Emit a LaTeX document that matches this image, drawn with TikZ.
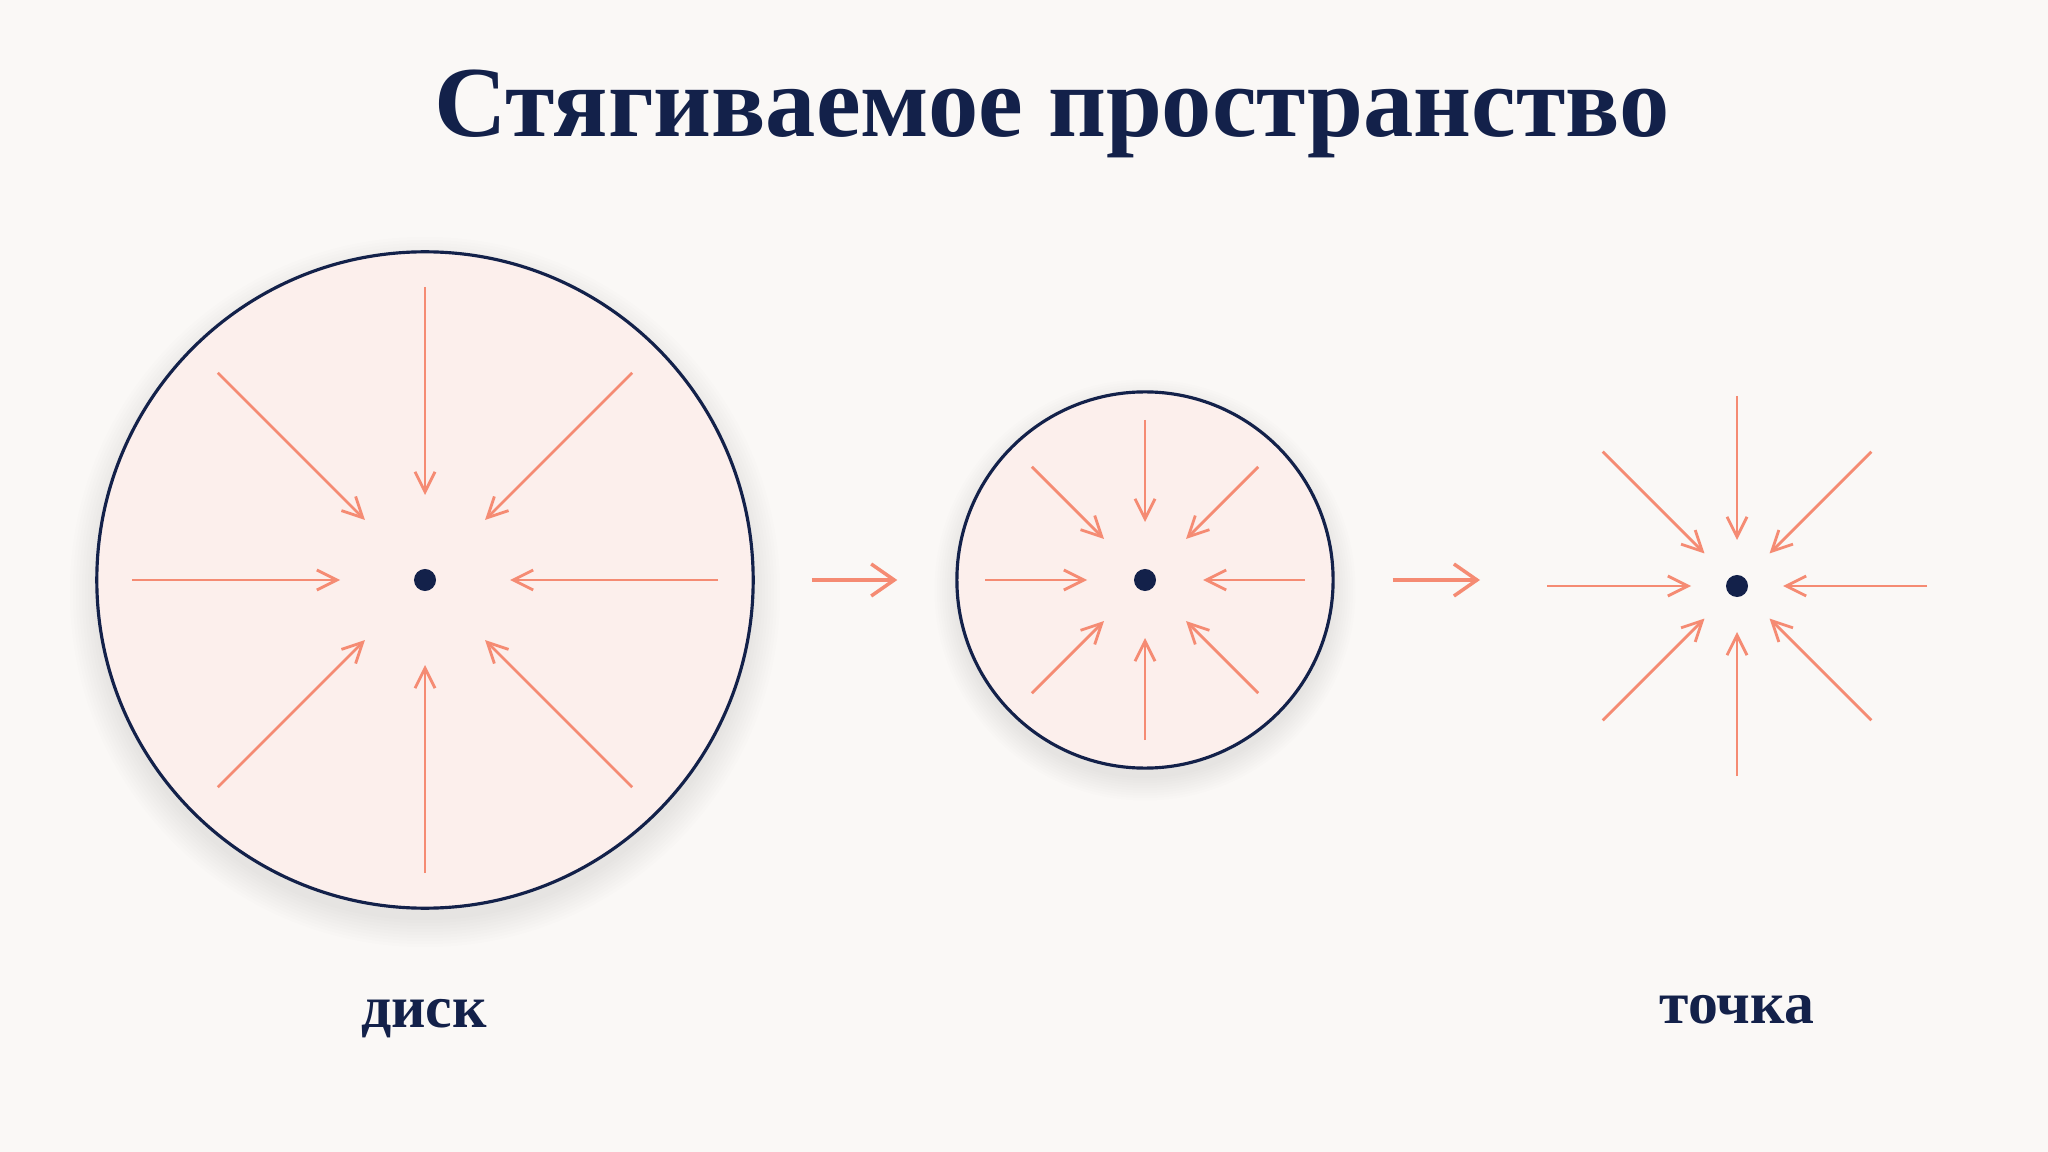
\documentclass[tikz,border=0pt]{standalone}
\usepackage{fontspec}
\setmainfont{Liberation Serif}
\usetikzlibrary{arrows.meta}
\definecolor{navy}{HTML}{13214A}
\definecolor{salmon}{HTML}{F58B73}
\definecolor{blush}{HTML}{FCEFEC}
\definecolor{paper}{HTML}{FAF8F6}

\tikzstyle{dot} = [circle, fill=navy, inner sep=0pt, minimum size=0.22cm]
\tikzstyle{ring} = [circle, draw=navy, line width=0.9pt, fill=blush, inner sep=0pt]
\tikzstyle{ray} = [draw=salmon, line width=0.8pt, -{Straight Barb[length=0.2cm, width=0.2cm]}]
\tikzstyle{shrink} = [draw=salmon, line width=1pt, -{Straight Barb[length=0.23cm, width=0.32cm]}]
\tikzstyle{word} = [navy, anchor=base, font=\bfseries\fontsize{17}{20}\selectfont]

\begin{document}
\begin{tikzpicture}[x=0.01cm, y=-0.01cm]
       \fill[paper] (0,0) rectangle (2048,1152);
       \useasboundingbox (0,0) rectangle (2048,1152);

       \node[navy, anchor=base, font=\bfseries\fontsize{28.6}{33}\selectfont] (title) at (1052,137) {Стягиваемое пространство};

       % soft shadows
       \foreach \r in {0,...,9} {
         \fill[black, opacity=0.009] (425,592) circle [radius={3.28cm+0.03cm*\r}];
         \fill[black, opacity=0.009] (1145,590) circle [radius={1.88cm+0.025cm*\r}];
       }

       \node[ring, minimum size=6.56cm] (disk) at (425,580) {};
       \node[ring, minimum size=3.76cm] (ball) at (1145,580) {};

       \node[dot] (dc) at (425,580) {};
       \node[dot] (bc) at (1145,580) {};
       \node[dot] (pc) at (1737,586) {};
       \coordinate (pin) at (1480,580);

       \foreach \a in {0,45,...,315} {
         \draw[ray] ([shift={(\a:293)}]dc.center) -- ([shift={(\a:85)}]dc.center);
         \draw[ray] ([shift={(\a:160)}]bc.center) -- ([shift={(\a:58)}]bc.center);
         \draw[ray] ([shift={(\a:190)}]pc.center) -- ([shift={(\a:46)}]pc.center);
       }

       \draw[shrink] ([xshift=0.57cm]disk.east) -- ([xshift=-0.58cm]ball.west);
       \draw[shrink] ([xshift=0.58cm]ball.east) -- (pin);

       \node[word] (dl) at (424,1027) {диск};
       \node[word] (pl) at (1737,1023) {точка};
\end{tikzpicture}
\end{document}
